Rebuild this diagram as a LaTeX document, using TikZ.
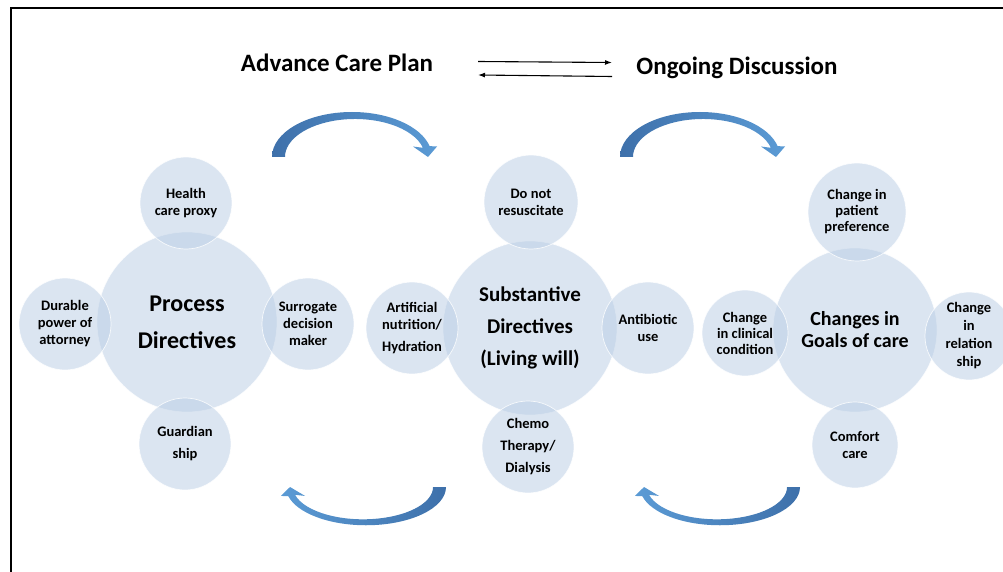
\documentclass[tikz,border=0pt]{standalone}
\usepackage{fontspec}
\setmainfont{Carlito}
\usetikzlibrary{arrows.meta}
\definecolor{discblue}{RGB}{184,204,228}
\definecolor{arrowdark}{RGB}{62,112,170}
\definecolor{arrowlight}{RGB}{91,155,213}

\begin{document}
\begin{tikzpicture}[x=1pt,y=1pt,
	disc/.style={circle,inner sep=0pt,align=center,fill=discblue,fill opacity=.5,text opacity=1,draw=white,draw opacity=.8,line width=.7pt},
	hub/.style={disc,minimum size=#1},
	leaf/.style={disc,minimum size=92pt,font=\fontsize{14.5}{#1}\selectfont\bfseries},
	leaf/.default=17,
	title/.style={anchor=base,font=\fontsize{25}{29}\selectfont\bfseries},
	thinarrow/.style={line width=1.1pt,-{Latex[length=7pt,width=5pt]}},
	carrow/.style={left color=arrowdark,right color=arrowlight,draw=none}]
\useasboundingbox (0,0) rectangle (1003,-572);

% frame
\draw[line width=2.6pt] (11,-575) -- (11,-8) -- (1006,-8);

% heading
\node[title] (acp) at (337,-72) {Advance Care Plan};
\node[title] (ongoing) at (737,-75) {Ongoing Discussion};
\coordinate (fwdA) at (478,-61.5);
\coordinate (fwdB) at (612,-62.5);
\coordinate (backA) at (612,-76.5);
\coordinate (backB) at (478,-75);
\draw[thinarrow] (fwdA) -- (fwdB);
\draw[thinarrow] (backA) -- (backB);

% process directives
\node[hub=180pt,font=\fontsize{24}{37}\selectfont\bfseries] (process) at (187,-322) {Process\\Directives};
\node[leaf] (proxy) at (186,-203) {Health\\care proxy};
\node[leaf] (attorney) at (65,-324) {Durable\\power of\\attorney};
\node[leaf] (surrogate) at (308,-324) {Surrogate\\decision\\maker};
\node[leaf=22] (guardian) at (185,-444) {Guardian\\ship};

% substantive directives
\node[hub=174pt,font=\fontsize{21}{32}\selectfont\bfseries] (living) at (530,-328) {Substantive\\Directives\\(Living will)};
\node[leaf,minimum size=94pt] (dnr) at (531,-202) {Do not\\resuscitate};
\node[leaf] (nutrition) at (412,-328) {Artificial\\nutrition/\\[5pt]Hydration};
\node[leaf] (antibiotic) at (648,-328) {Antibiotic\\use};
\node[leaf=22] (chemo) at (528,-447) {Chemo\\Therapy/\\Dialysis};

% goals of care
\node[hub=164pt,font=\fontsize{20}{22}\selectfont\bfseries] (goals) at (855,-330) {Changes in\\Goals of care};
\node[leaf=16,minimum size=98pt] (preference) at (857,-212) {Change in\\patient\\preference};
\node[leaf=16,minimum size=86pt] (clinical) at (745,-333) {Change\\in clinical\\condition};
\node[leaf=18,minimum size=88pt] (relation) at (969,-336) {Change\\in\\relation\\ship};
\node[leaf,minimum size=86pt] (comfort) at (855,-445) {Comfort\\care};

% curved arrows
\foreach \dx in {0,348}
  \path[carrow,shift={(352+\dx,-157)}] (-80,0) arc[start angle=180,end angle=14,x radius=80,y radius=45]
    -- (85,10.5) -- (76,0) -- (61,10.5) -- (70.9,9.2)
    arc[start angle=14,end angle=180,x radius=70,y radius=38] -- cycle;
\foreach \dx in {0,354}
  \path[carrow,left color=arrowlight,right color=arrowdark,shift={(366+\dx,-487)},rotate=180,yscale=.85]
    (-80,0) arc[start angle=180,end angle=14,x radius=80,y radius=45]
    -- (85,10.5) -- (76,0) -- (61,10.5) -- (70.9,9.2)
    arc[start angle=14,end angle=180,x radius=70,y radius=38] -- cycle;
\end{tikzpicture}
\end{document}
